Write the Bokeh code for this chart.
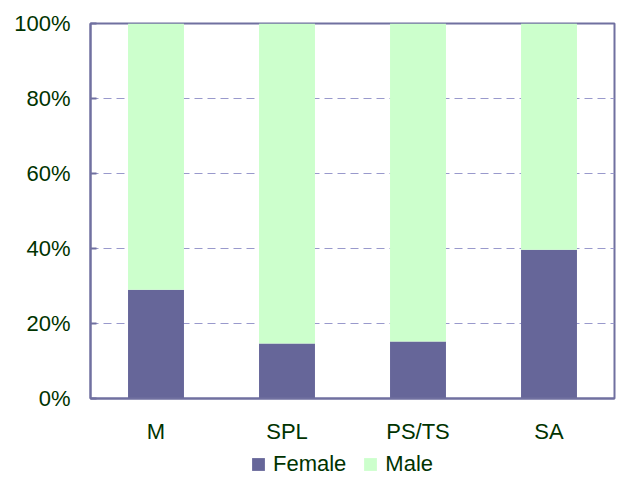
from bokeh.plotting import figure
from bokeh.layouts import column
from bokeh.models import Legend, NumeralTickFormatter, FixedTicker, Range1d
from bokeh.embed import file_html
from bokeh.resources import INLINE

categories = ["M", "SPL", "PS/TS", "SA"]
female = [0.29, 0.147, 0.152, 0.397]
male = [1 - f for f in female]
y_ticks = [0, 0.2, 0.4, 0.6, 0.8, 1.0]
series = ["Female", "Male"]
colors = ["#666699", "#ccffcc"]

FONT = "Liberation Sans"
TXT = "#003300"
AXC = "#7070a0"

data = dict(cat=categories, Female=female, Male=male)

p = figure(x_range=categories, width=616, height=450,
           output_backend="svg", toolbar_location=None,
           min_border_left=90, min_border_right=2,
           min_border_top=23, min_border_bottom=52)
p.y_range = Range1d(0, 1)

r = p.vbar_stack(series, x="cat", width=0.427, source=data,
                 color=colors, line_color=None)

p.xgrid.grid_line_color = None
p.ygrid.grid_line_color = "#9999cc"
p.ygrid.grid_line_dash = "8 5"
p.ygrid.grid_line_width = 1

p.yaxis.ticker = FixedTicker(ticks=y_ticks)
p.yaxis.formatter = NumeralTickFormatter(format="0%")
p.yaxis.minor_tick_line_color = None
p.yaxis.major_tick_in = 6
p.yaxis.major_tick_out = 0
p.xaxis.major_tick_in = 0
p.xaxis.major_tick_out = 0

for ax in (p.xaxis[0], p.yaxis[0]):
    ax.axis_line_color = AXC
    ax.axis_line_width = 2
    ax.major_tick_line_color = AXC
    ax.major_tick_line_width = 2
    ax.major_label_text_font = FONT
    ax.major_label_text_font_size = "22px"
    ax.major_label_text_color = TXT

p.yaxis.major_label_standoff = 20
p.xaxis.major_label_standoff = 20

p.outline_line_color = AXC
p.outline_line_width = 2

# legend strip below the chart (frame aligned with the chart's frame)
p2 = figure(width=616, height=27, output_backend="svg", toolbar_location=None,
            x_axis_type=None, y_axis_type=None, min_border=0,
            x_range=Range1d(0, 1), y_range=Range1d(0, 1))
p2.outline_line_color = None
p2.xgrid.grid_line_color = None
p2.ygrid.grid_line_color = None
# zero-height proxies: only their legend swatches are seen
dummies = [p2.vbar(x=[0.5], top=[0], bottom=[0], width=0.01, color=c, line_color=None)
           for c in colors]

legend = Legend(items=[(s, [d]) for s, d in zip(series, dummies)],
                orientation="horizontal", location=(160, 0),
                label_text_font=FONT, label_text_font_size="22px",
                label_text_color=TXT, glyph_width=16, glyph_height=16,
                label_standoff=7, spacing=16, padding=0, margin=0,
                border_line_color=None, background_fill_alpha=0)
p2.add_layout(legend, "center")

layout = column(p, p2, spacing=0)
open("out.html", "w").write(file_html(layout, INLINE))
